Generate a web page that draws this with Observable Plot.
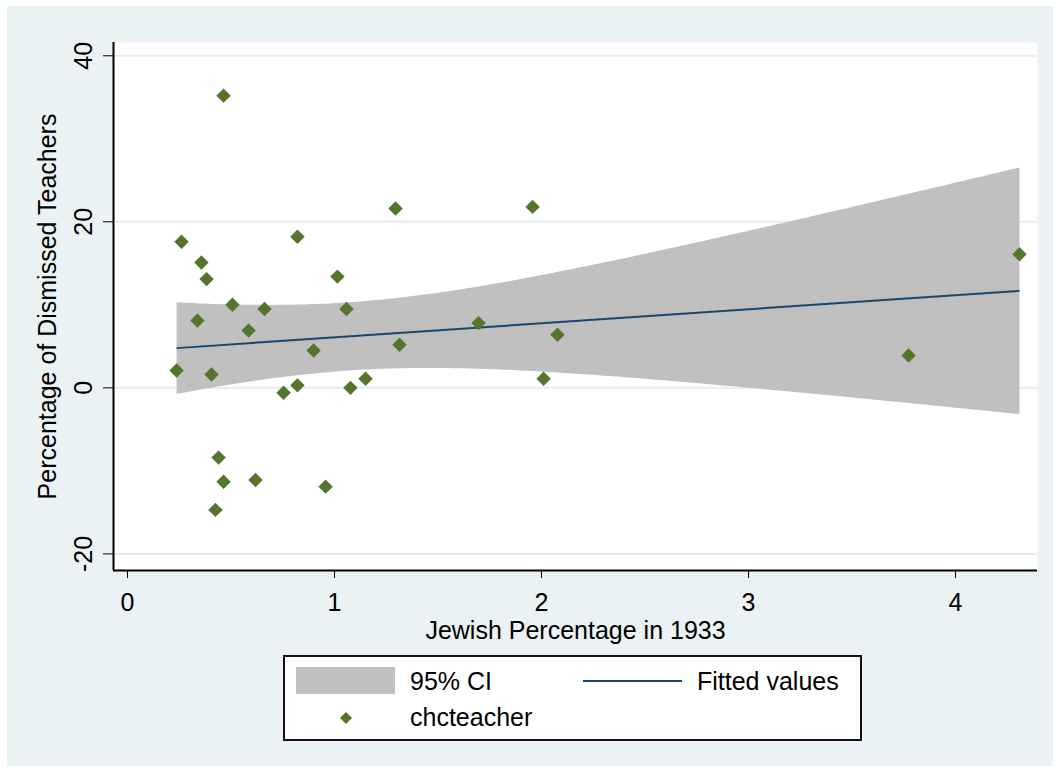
<!DOCTYPE html>
<html>
<head>
<meta charset="utf-8">
<script src="https://cdn.jsdelivr.net/npm/d3@7"></script>
<script src="https://cdn.jsdelivr.net/npm/@observablehq/plot@0.6"></script>
<style>
  html, body { margin: 0; padding: 0; background: #ffffff; }
  #panel { position: absolute; left: 7px; top: 6px; width: 1046px; height: 760px; background: #eaf2f3; }
  #chart { position: absolute; left: 0; top: 0; }
  #legend { position: absolute; left: 276px; top: 649px; width: 575px; height: 82px; border: 2px solid #111; background: #fff;
            font-family: "Liberation Sans", Arial, sans-serif; font-size: 25px; color: #000; }
  #legend .item { position: absolute; line-height: 1; white-space: nowrap; }
</style>
</head>
<body>
<div id="panel">
  <div id="chart"></div>
  <div id="legend"></div>
</div>
<script>
// Jewish percentage of population in 1933 (x)
const jewishPct = [0.237, 0.261, 0.338, 0.357, 0.382, 0.406, 0.464, 0.440, 0.464, 0.425,
                   0.507, 0.585, 0.618, 0.662, 0.754, 0.821, 0.821, 0.899, 0.957, 1.014,
                   1.058, 1.077, 1.150, 1.295, 1.314, 1.696, 1.957, 2.010, 2.077, 3.773, 4.309];
// Percentage of dismissed teachers (chcteacher)
const dismissed = [2.1, 17.6, 8.1, 15.1, 13.1, 1.6, 35.2, -8.4, -11.3, -14.7,
                   10.0, 6.9, -11.1, 9.5, -0.6, 18.2, 0.3, 4.5, -11.9, 13.4,
                   9.5, 0.0, 1.1, 21.6, 5.2, 7.8, 21.8, 1.1, 6.4, 3.9, 16.1];
const xTicks = [0, 1, 2, 3, 4];
const yTicks = [-20, 0, 20, 40];
const xDomain = [-0.0676, 4.396];
const yDomain = [-22.0, 41.6];
const xTitle = "Jewish Percentage in 1933";
const yTitle = "Percentage of Dismissed Teachers";
const legendLabels = ["95% CI", "Fitted values", "chcteacher"];

const data = jewishPct.map((x, i) => ({x, y: dismissed[i]}));
const plain = d => String(d);

const chart = Plot.plot({
  width: 1046,
  height: 640,
  marginLeft: 106,
  marginRight: 16,
  marginTop: 36,
  marginBottom: 76,
  style: {background: "transparent", fontFamily: "'Liberation Sans', Arial, sans-serif", fontSize: "25px", color: "#000", overflow: "visible"},
  x: {domain: xDomain, ticks: xTicks, tickFormat: plain, tickSize: 8, tickPadding: 15, label: xTitle, labelAnchor: "center", labelOffset: 68, labelArrow: "none"},
  y: {domain: yDomain, ticks: yTicks, tickFormat: plain, tickSize: 10, tickPadding: 12, tickRotate: -90, label: yTitle, labelAnchor: "center", labelOffset: 75, labelArrow: "none"},
  marks: [
    Plot.frame({fill: "white", stroke: "none"}),
    Plot.gridY(yTicks, {stroke: "#e4eef0", strokeOpacity: 1, strokeWidth: 2}),
    Plot.linearRegressionY(data, {x: "x", y: "y", ci: 0.95, fill: "#c0c0c0", fillOpacity: 1, stroke: "#1a476f", strokeWidth: 2, strokeLinecap: "butt"}),
    Plot.dot(data, {x: "x", y: "y", symbol: "diamond2", r: 6.5, fill: "#55752f", stroke: "none"}),
    Plot.ruleX([xDomain[0]], {stroke: "#000", strokeWidth: 2}),
    Plot.ruleY([yDomain[0]], {stroke: "#000", strokeWidth: 2})
  ]
});
document.getElementById("chart").appendChild(chart);

// Legend (HTML)
const legend = document.getElementById("legend");
legend.innerHTML = `
  <div class="item" style="left:11px;top:10px;width:99px;height:27px;background:#c0c0c0"></div>
  <div class="item" style="left:125px;top:12px">${legendLabels[0]}</div>
  <div class="item" style="left:298px;top:23px;width:99px;height:2px;background:#1a476f"></div>
  <div class="item" style="left:412px;top:12px">${legendLabels[1]}</div>
  <svg class="item" style="left:52px;top:52px" width="18" height="18"><path d="M9,3L15,9L9,15L3,9Z" fill="#55752f"/></svg>
  <div class="item" style="left:125px;top:48px">${legendLabels[2]}</div>
`;
</script>
</body>
</html>
